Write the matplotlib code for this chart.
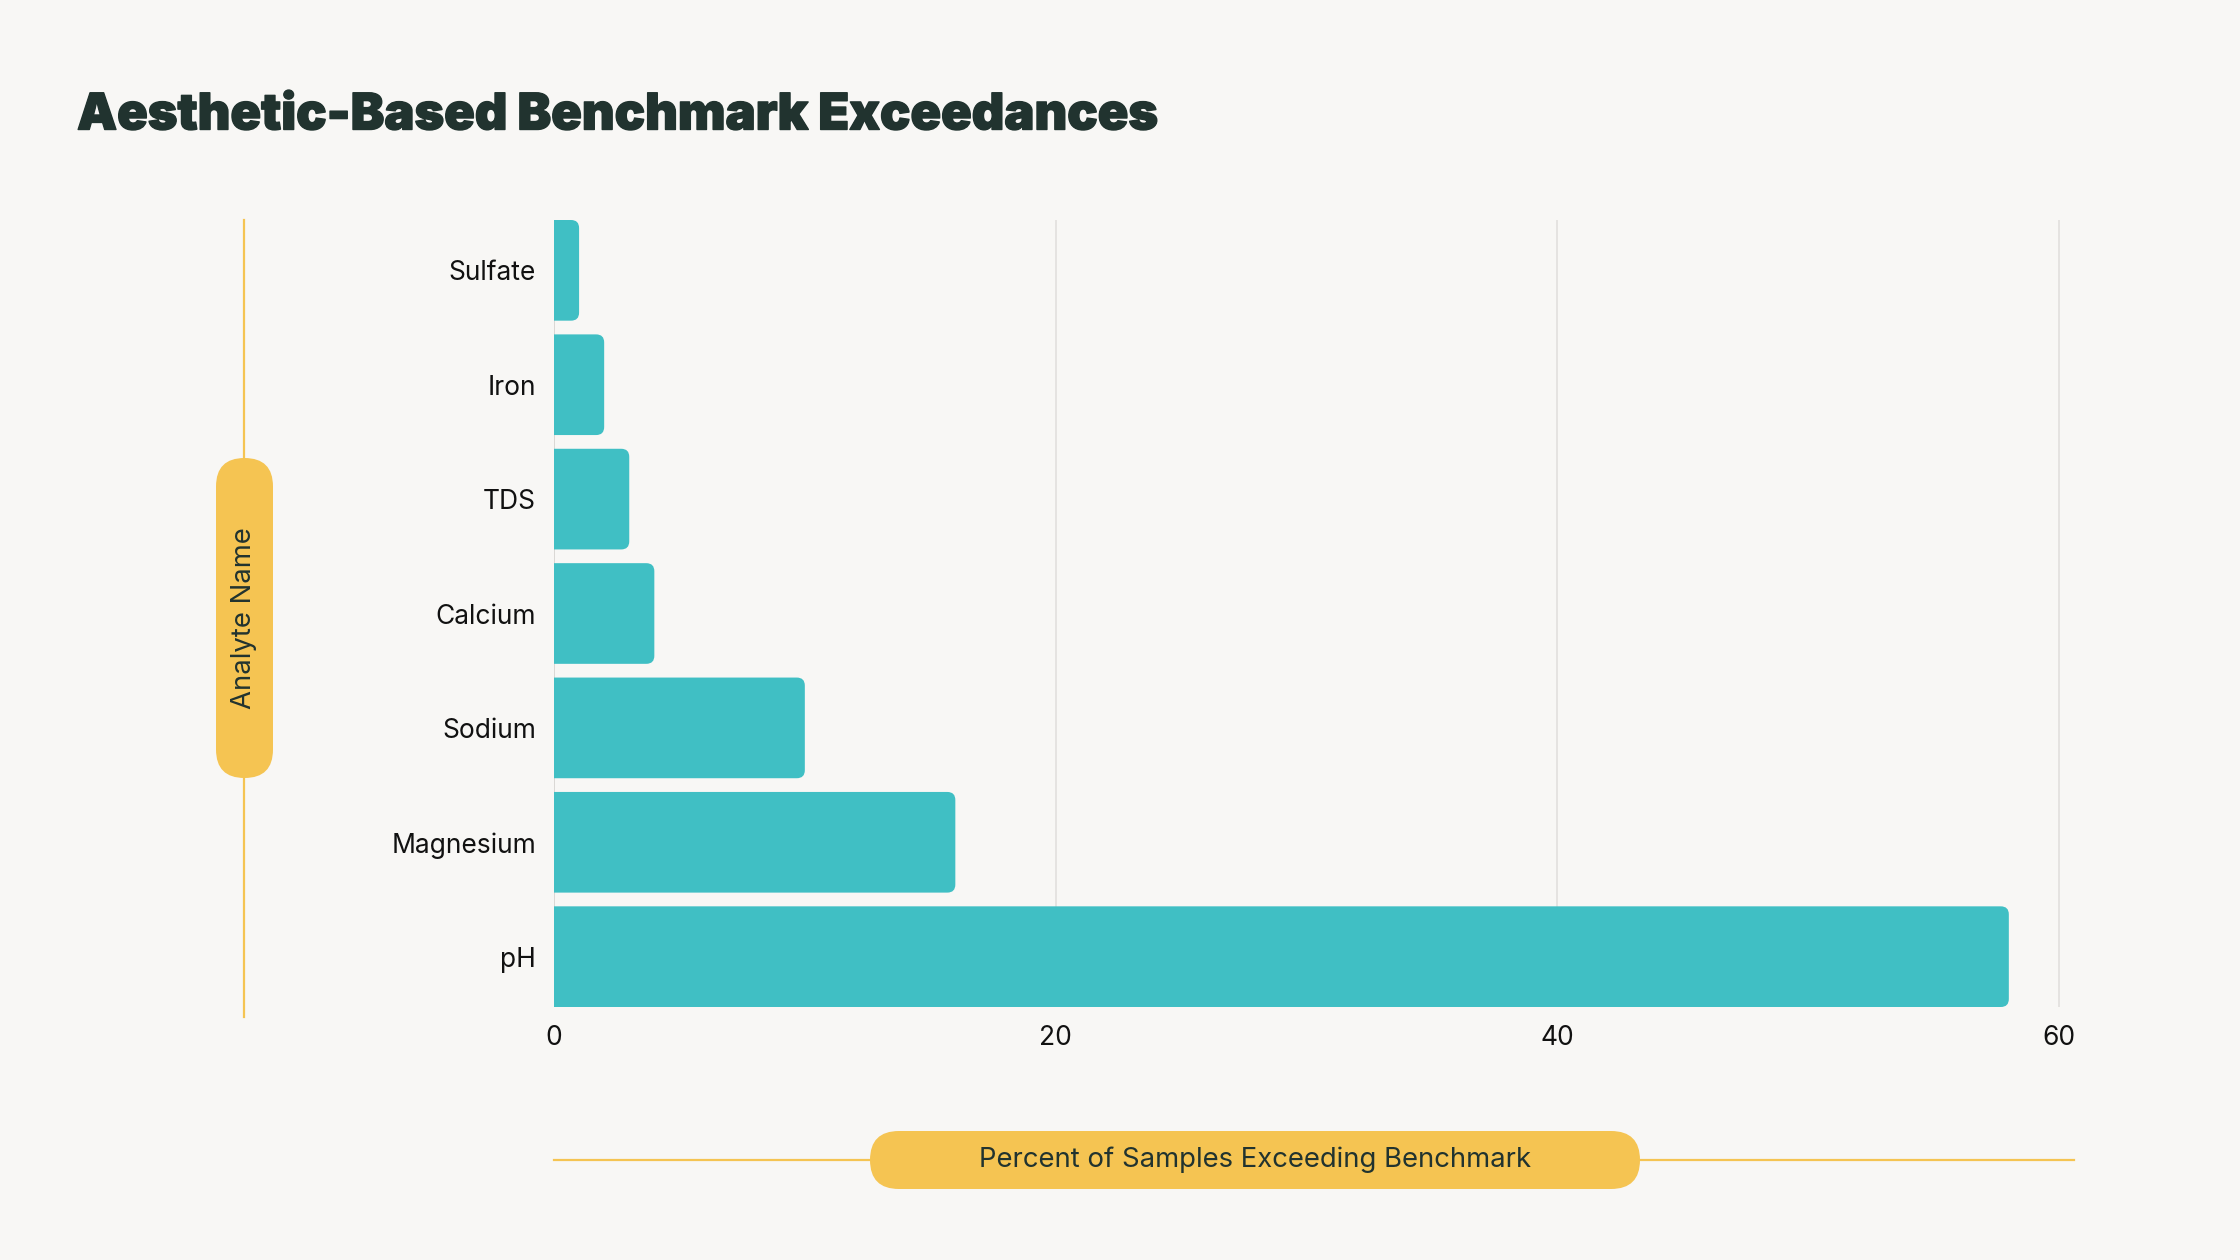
import matplotlib
matplotlib.use("Agg")
import matplotlib.pyplot as plt
import matplotlib.patheffects as pe
from matplotlib.path import Path
from matplotlib.patches import PathPatch, FancyBboxPatch

analytes = ["pH", "Magnesium", "Sodium", "Calcium", "TDS", "Iron", "Sulfate"]
percent = [58, 16, 10, 4, 3, 2, 1]
x_ticks = [0, 20, 40, 60]

BG = "#F8F7F5"
BAR = "#40BFC4"
GOLD = "#F5C452"
DARK = "#21332F"
FONT = ["Inter", "DejaVu Sans"]

W, H = 2240, 1260
fig = plt.figure(figsize=(11.2, 6.3), dpi=200, facecolor=BG)

# main bar axes, placed in pixel terms
left, right, top, bottom = 554, 2074, 220, 1007
ax = fig.add_axes([left / W, 1 - bottom / H, (right - left) / W, (bottom - top) / H])
ax.set_facecolor(BG)
bar_h = 0.88
xmax = 60 * (right - left) / 1505
ax.set_xlim(0, xmax)
ax.set_ylim(-bar_h / 2, len(analytes) - 1 + bar_h / 2)

px_x = (right - left) / xmax
px_y = (bottom - top) / (len(analytes) - 1 + bar_h)
r = 8
for i, v in enumerate(percent):
    rx = min(r / px_x, v / 2)
    ry = r / px_y
    y0, y1 = i - bar_h / 2, i + bar_h / 2
    verts = [(0, y0), (v - rx, y0), (v, y0), (v, y0 + ry), (v, y1 - ry),
             (v, y1), (v - rx, y1), (0, y1), (0, y0)]
    codes = [Path.MOVETO, Path.LINETO, Path.CURVE3, Path.CURVE3, Path.LINETO,
             Path.CURVE3, Path.CURVE3, Path.LINETO, Path.CLOSEPOLY]
    ax.add_patch(PathPatch(Path(verts, codes), facecolor=BAR, edgecolor="none", zorder=3))

for t in x_ticks[1:]:
    ax.axvline(t, color="#E2E0DD", lw=0.6, zorder=1)
for s in ax.spines.values():
    s.set_visible(False)
ax.axvline(0, color="#D4D2CF", lw=0.6, zorder=1)

ax.set_yticks(range(len(analytes)))
ax.set_yticklabels(analytes)
ax.set_xticks(x_ticks)
ax.tick_params(length=0, labelsize=9.5, labelcolor="#111111")
ax.tick_params(axis="y", pad=6.5)
ax.tick_params(axis="x", pad=6.5)
for lab in ax.get_xticklabels() + ax.get_yticklabels():
    lab.set_fontfamily(FONT)

# overlay in pixel coordinates for title, guide lines and pills
ov = fig.add_axes([0, 0, 1, 1], zorder=-1)
ov.set_xlim(0, W)
ov.set_ylim(H, 0)
ov.axis("off")

ov.plot([244, 244], [220, 1017], color=GOLD, lw=0.8, zorder=1)
ov.add_patch(FancyBboxPatch((216, 458), 57, 320, boxstyle="round,pad=0,rounding_size=28.5",
                            facecolor=GOLD, edgecolor="none", zorder=2))
ov.text(244, 618, "Analyte Name", rotation=90, ha="center", va="center",
        fontsize=9.9, color=DARK, family=FONT, zorder=3)

ov.plot([554, 2074], [1160, 1160], color=GOLD, lw=0.8, zorder=1)
ov.add_patch(FancyBboxPatch((870, 1131), 770, 58, boxstyle="round,pad=0,rounding_size=29",
                            facecolor=GOLD, edgecolor="none", zorder=2))
ov.text(1255, 1160, "Percent of Samples Exceeding Benchmark", ha="center", va="center",
        fontsize=9.9, color=DARK, family=FONT, zorder=3)

title = ov.text(77, 116, "Aesthetic-Based Benchmark Exceedances", ha="left", va="center",
                fontsize=18, fontweight=900, color=DARK, family=FONT,
                path_effects=[pe.withStroke(linewidth=0.5, foreground=DARK)])

# fit title to the reference width
fig.canvas.draw()
bb = title.get_window_extent()
title.set_fontsize(18 * 1081 / bb.width)

fig.savefig("out.png", dpi=200, facecolor=BG)
